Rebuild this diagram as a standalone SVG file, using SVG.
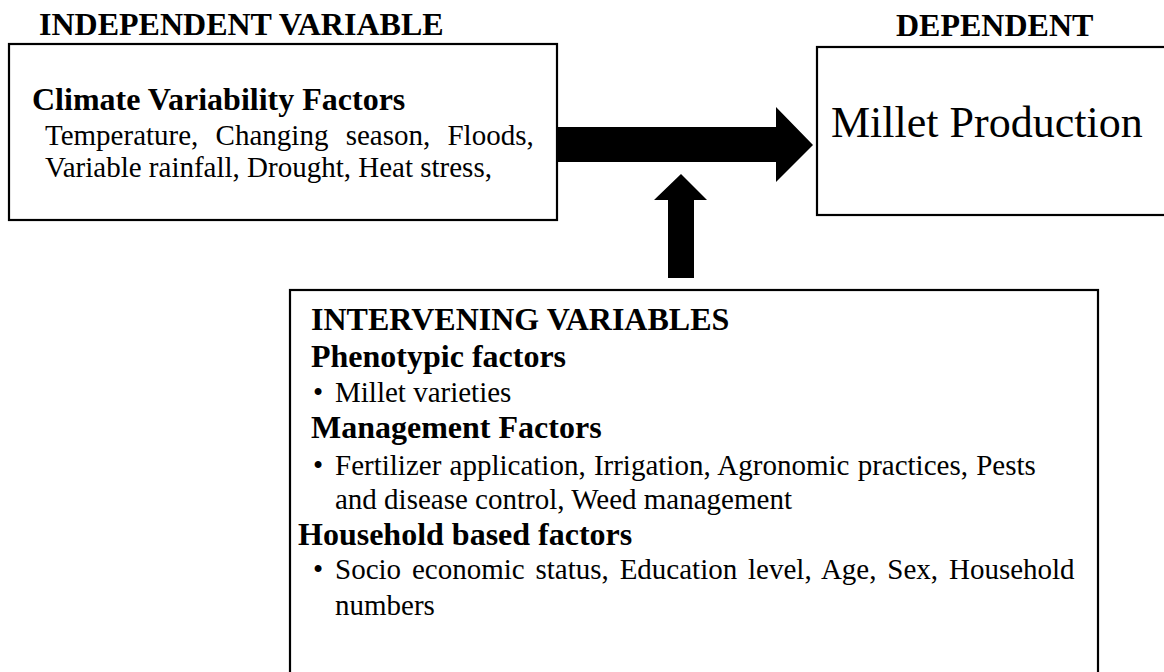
<svg xmlns="http://www.w3.org/2000/svg" width="1164" height="672" viewBox="0 0 1164 672">
<style>
.box{fill:#fff;stroke:#000;stroke-width:2.2}
.b{font-family:"Liberation Serif","Times New Roman",serif;font-weight:bold;font-size:32px;fill:#000}
.r{font-family:"Liberation Serif","Times New Roman",serif;font-size:29px;fill:#000}
.big{font-family:"Liberation Serif","Times New Roman",serif;font-size:44px;fill:#000}
.arrow{fill:#000}
</style>
<rect width="1164" height="672" fill="#fff"/>
<g id="independent">
  <text class="b" x="39" y="35">INDEPENDENT VARIABLE</text>
  <rect class="box" x="9" y="44" width="548" height="176"/>
  <text class="b" x="32" y="110">Climate Variability Factors</text>
  <text class="r" x="45" y="145" word-spacing="10">Temperature, Changing season, Floods,</text>
  <text class="r" x="45" y="177">Variable rainfall, Drought, Heat stress,</text>
</g>
<g id="dependent">
  <text class="b" x="896" y="36">DEPENDENT</text>
  <rect class="box" x="817" y="47" width="360" height="168"/>
  <text class="big" x="831" y="137">Millet Production</text>
</g>
<g id="intervening">
  <rect class="box" x="290" y="290" width="808" height="400"/>
  <text class="b" x="311" y="330">INTERVENING VARIABLES</text>
  <text class="b" x="311" y="367">Phenotypic factors</text>
  <text class="r" x="313" y="402">•</text>
  <text class="r" x="335" y="402">Millet varieties</text>
  <text class="b" x="311" y="438">Management Factors</text>
  <text class="r" x="313" y="475">•</text>
  <text class="r" x="335" y="475" word-spacing="1">Fertilizer application, Irrigation, Agronomic practices, Pests</text>
  <text class="r" x="335" y="509">and disease control, Weed management</text>
  <text class="b" x="298" y="545">Household based factors</text>
  <text class="r" x="313" y="579">•</text>
  <text class="r" x="335" y="579" word-spacing="3.6">Socio economic status, Education level, Age, Sex, Household</text>
  <text class="r" x="335" y="615">numbers</text>
</g>
<g id="connectors">
  <polygon class="arrow" points="557,127 776,127 776,107 813,145 776,182 776,162 557,162"/>
  <polygon class="arrow" points="668,278 668,200 654,200 681,174 707,200 694,200 694,278"/>
</g>
</svg>
